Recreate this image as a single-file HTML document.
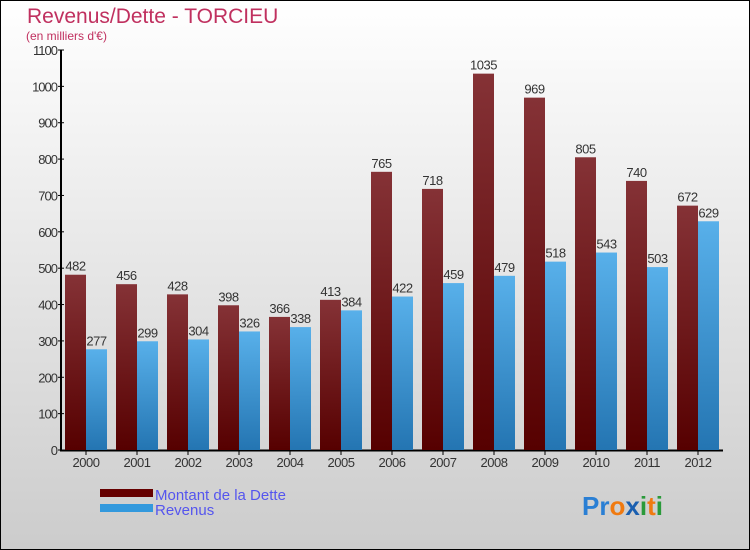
<!DOCTYPE html>
<html><head><meta charset="utf-8"><style>
body{margin:0}
#c{position:relative;width:750px;height:550px;overflow:hidden}
text{font-family:"Liberation Sans",sans-serif}
</style></head><body>
<div id="c">
<svg id="s" width="750" height="550" xmlns="http://www.w3.org/2000/svg">
<defs>
<linearGradient id="bg" x1="0" y1="0" x2="0" y2="1"><stop offset="0" stop-color="#ffffff"/><stop offset="1" stop-color="#cccccc"/></linearGradient>
<linearGradient id="gd" x1="0" y1="0" x2="0" y2="1"><stop offset="0" stop-color="#853236"/><stop offset="1" stop-color="#560000"/></linearGradient>
<linearGradient id="gr" x1="0" y1="0" x2="0" y2="1"><stop offset="0" stop-color="#58b0ea"/><stop offset="1" stop-color="#2475b2"/></linearGradient>
</defs>
<rect x="0.5" y="0.5" width="749" height="549" fill="url(#bg)" stroke="#000"/>
<text x="27" y="23" font-size="21" fill="#c0305f">Revenus/Dette - TORCIEU</text>
<text x="26" y="40" font-size="12" fill="#c0305f">(en milliers d'€)</text>
<g id="plot"></g>
<g>
<rect x="100" y="489" width="53" height="8" fill="#660000"/>
<text x="155" y="500" font-size="15" fill="#5555ee">Montant de la Dette</text>
<rect x="100" y="504" width="53" height="8" fill="#3399dd"/>
<text x="155" y="515" font-size="15" fill="#5555ee">Revenus</text>
</g>
<text x="582" y="515" font-size="26" font-weight="bold"><tspan fill="#2a7fd4">Pr</tspan><tspan fill="#f07a10">o</tspan><tspan fill="#1a5fb0">x</tspan><tspan fill="#2a9a3a">i</tspan><tspan fill="#f07a10">t</tspan><tspan fill="#2a9a3a">i</tspan></text>
</svg>
</div>
<script>
const years=["2000","2001","2002","2003","2004","2005","2006","2007","2008","2009","2010","2011","2012"];
const dette=[482,456,428,398,366,413,765,718,1035,969,805,740,672];
const revenus=[277,299,304,326,338,384,422,459,479,518,543,503,629];
const yTicks=[0,100,200,300,400,500,600,700,800,900,1000,1100];
const NS="http://www.w3.org/2000/svg";
const g=document.getElementById('plot');
const y0=450,yMax=1100,ph=400;
const yS=v=>y0-v*ph/yMax;
const xS=i=>65+i*51;
function mk(t,a){const e=document.createElementNS(NS,t);for(const k in a)e.setAttribute(k,a[k]);g.appendChild(e);return e;}
let ax=mk('line',{x1:61,y1:50,x2:61,y2:451,stroke:'#000','stroke-width':2});


let bx=mk('line',{x1:60,y1:450.5,x2:723,y2:450.5,stroke:'#000','stroke-width':2});


yTicks.forEach(v=>{
 const y=yS(v);
 let tk=mk('line',{x1:58,y1:y,x2:64,y2:y,stroke:'#000'});
 
 
 let t=mk('text',{x:57,y:y+5,'font-size':13,fill:'#333','text-anchor':'end','letter-spacing':'-1'});
 t.textContent=v;
 
 
});
years.forEach((yr,i)=>{
 const x=xS(i);
 const yd=yS(dette[i]),yr2=yS(revenus[i]);
 let b1=mk('rect',{x:x,y:yd,width:21,height:y0-yd,fill:'url(#gd)'});
 
 
 let b2=mk('rect',{x:x+21,y:yr2,width:21,height:y0-yr2,fill:'url(#gr)'});
 
 
 let l1=mk('text',{x:x+10.5,y:yd-4,'font-size':13,fill:'#333','text-anchor':'middle','letter-spacing':'-0.5'});
 l1.textContent=dette[i];
 
 
 let l2=mk('text',{x:x+31.5,y:yr2-4,'font-size':13,fill:'#333','text-anchor':'middle','letter-spacing':'-0.5'});
 l2.textContent=revenus[i];
 
 
 let tk=mk('line',{x1:x+21,y1:450,x2:x+21,y2:455,stroke:'#000'});
 
 
 let xl=mk('text',{x:x+21,y:467,'font-size':13,fill:'#333','text-anchor':'middle','letter-spacing':'-0.5'});
 xl.textContent=yr;
 
 
});
</script>
</body></html>
